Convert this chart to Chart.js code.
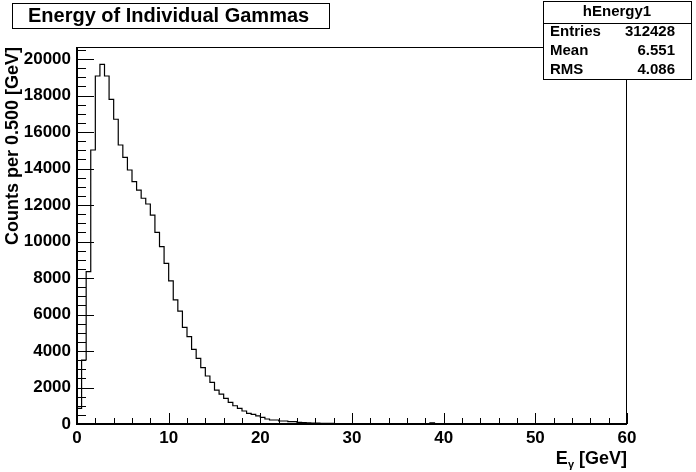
<!DOCTYPE html>
<html>
<head>
<meta charset="utf-8">
<script src="https://cdn.jsdelivr.net/npm/chart.js@4.4.1/dist/chart.umd.min.js"></script>
<style>
  body { margin: 0; background: #fff; }
  #histo { display: block; }
</style>
</head>
<body>
<canvas id="histo" width="696" height="472"></canvas>
<script>
// histogram hEnergy1, 120 bins of 0.5 GeV from 0 to 60
var binWidth = 0.5;
var xMin = 0, xMax = 60;
var yMax = 20660;
var counts = [
  860, 3507, 8346, 15015, 19070, 19710, 19070, 17790, 16700, 15290,
  14610, 13920, 13280, 12820, 12370, 12055, 11450, 10500, 9720, 8800,
  7840, 6800, 6190, 5300, 4790, 4090, 3600, 3090, 2630, 2280,
  1860, 1640, 1400, 1190, 1000, 860, 713, 585, 530, 440,
  365, 275, 220, 220, 165, 165, 125, 125, 90, 80,
  60, 55, 45, 40, 35, 30, 28, 25, 22, 20,
  18, 15, 14, 12, 10, 9, 8, 7, 6, 5,
  5, 4, 4, 3, 3, 2, 1, 60, 0, 0,
  0, 0, 0, 0, 0, 0, 0, 0, 0, 0,
  0, 0, 0, 0, 0, 0, 0, 0, 0, 0,
  0, 0, 0, 0, 0, 0, 0, 0, 0, 0,
  0, 0, 0, 0, 0, 0, 0, 0, 0, 0
];
var xTicks = [0, 10, 20, 30, 40, 50, 60];
var yTicks = [0, 2000, 4000, 6000, 8000, 10000, 12000, 14000, 16000, 18000, 20000];
var histName = 'hEnergy1';
var statNames = ['Entries', 'Mean', 'RMS'];
var statValues = ['312428', '6.551', '4.086'];
var title = 'Energy of Individual Gammas';

var FONT = '"Liberation Sans", Arial, Helvetica, sans-serif';

// step outline points
var pts = [{x: xMin, y: 0}];
counts.forEach(function (c, i) {
  pts.push({x: xMin + i * binWidth, y: c});
});
pts.push({x: xMax, y: counts[counts.length - 1]});

// ROOT style: frame, inner ticks, title box, stats box
var rootDeco = {
  id: 'rootDeco',
  afterDraw: function (chart) {
    var ctx = chart.ctx, a = chart.chartArea;
    var xs = chart.scales.x, ys = chart.scales.y;
    ctx.save();
    ctx.strokeStyle = '#000';
    ctx.lineWidth = 1;
    ctx.strokeRect(a.left + 0.5, a.top + 0.5, a.right - a.left - 1, a.bottom - a.top);

    // y ticks
    ctx.beginPath();
    for (var v = 0; v <= yMax; v += 500) {
      var py = Math.round(ys.getPixelForValue(v)) + 0.5;
      var len = (v % 2000 === 0) ? 17 : 9;
      ctx.moveTo(a.left, py);
      ctx.lineTo(a.left + len, py);
    }
    // x ticks
    for (var t = xMin; t <= xMax; t += 2) {
      var px = Math.round(xs.getPixelForValue(t)) + 0.5;
      var l2 = (t % 10 === 0) ? 11 : 6;
      ctx.moveTo(px, a.bottom);
      ctx.lineTo(px, a.bottom - l2);
    }
    ctx.stroke();

    // thicker axis lines
    ctx.lineWidth = 2;
    ctx.beginPath();
    ctx.moveTo(a.left, a.top);
    ctx.lineTo(a.left, a.bottom);
    ctx.lineTo(a.right, a.bottom);
    ctx.stroke();

    // x title with subscript gamma
    ctx.fillStyle = '#000';
    ctx.textBaseline = 'alphabetic';
    ctx.font = 'bold 18px ' + FONT;
    var w1 = ctx.measureText('E').width;
    var w3 = ctx.measureText(' [GeV]').width;
    ctx.font = 'bold 11px ' + FONT;
    var w2 = ctx.measureText('\u03b3').width;
    var xr = a.right;
    var base = 464;
    ctx.font = 'bold 18px ' + FONT;
    ctx.textAlign = 'left';
    ctx.fillText('E', xr - w1 - w2 - w3, base);
    ctx.fillText(' [GeV]', xr - w3, base);
    ctx.font = 'bold 11px ' + FONT;
    ctx.fillText('\u03b3', xr - w2 - w3, base + 4);

    // title box
    ctx.lineWidth = 1;
    ctx.fillStyle = '#fff';
    ctx.fillRect(12, 3, 317, 25);
    ctx.strokeRect(12.5, 3.5, 317, 25);
    ctx.fillStyle = '#000';
    ctx.font = 'bold 20px ' + FONT;
    ctx.textAlign = 'left';
    ctx.textBaseline = 'middle';
    ctx.fillText(title, 28, 16);

    // stats box
    ctx.fillStyle = '#fff';
    ctx.fillRect(543, 1, 149, 78);
    ctx.strokeRect(543.5, 1.5, 148, 78);
    ctx.beginPath();
    ctx.moveTo(543, 23.5);
    ctx.lineTo(692, 23.5);
    ctx.stroke();
    ctx.fillStyle = '#000';
    ctx.font = 'bold 15px ' + FONT;
    ctx.textAlign = 'center';
    ctx.fillText(histName, 617, 12);
    var rowY = [32, 51, 70];
    statNames.forEach(function (n, i) {
      ctx.textAlign = 'left';
      ctx.fillText(n, 550, rowY[i]);
      ctx.textAlign = 'right';
      ctx.fillText(statValues[i], 675, rowY[i]);
    });
    ctx.restore();
  }
};

var ctxH = document.getElementById('histo').getContext('2d');
var histChart = new Chart(ctxH, {
  type: 'line',
  data: {
    datasets: [{
      data: pts,
      stepped: 'before',
      borderColor: '#000',
      borderWidth: 1.2,
      pointRadius: 0,
      fill: false,
      tension: 0
    }]
  },
  options: {
    responsive: false,
    animation: false,
    layout: { padding: { left: 0, top: 47, right: 69, bottom: 0 } },
    plugins: {
      legend: { display: false },
      tooltip: { enabled: false }
    },
    scales: {
      x: {
        type: 'linear',
        min: xMin,
        max: xMax,
        afterBuildTicks: function (s) { s.ticks = xTicks.map(function (v) { return {value: v}; }); },
        afterFit: function (s) { s.height = 48; },
        grid: { display: false, drawTicks: false },
        border: { display: false },
        ticks: {
          color: '#000',
          padding: 4,
          maxRotation: 0,
          autoSkip: false,
          callback: function (v) { return String(v); },
          font: { family: FONT, size: 17, weight: 'bold' }
        }
      },
      y: {
        type: 'linear',
        min: 0,
        max: yMax,
        afterBuildTicks: function (s) { s.ticks = yTicks.map(function (v) { return {value: v}; }); },
        afterFit: function (s) { s.width = 77; },
        grid: { display: false, drawTicks: false },
        border: { display: false },
        title: {
          display: true,
          text: 'Counts per 0.500 [GeV]',
          align: 'end',
          color: '#000',
          padding: { top: 2, bottom: 0 },
          font: { family: FONT, size: 18, weight: 'bold' }
        },
        ticks: {
          color: '#000',
          padding: 6,
          autoSkip: false,
          callback: function (v) { return String(v); },
          font: { family: FONT, size: 17, weight: 'bold' }
        }
      }
    }
  },
  plugins: [rootDeco]
});
</script>
</body>
</html>
